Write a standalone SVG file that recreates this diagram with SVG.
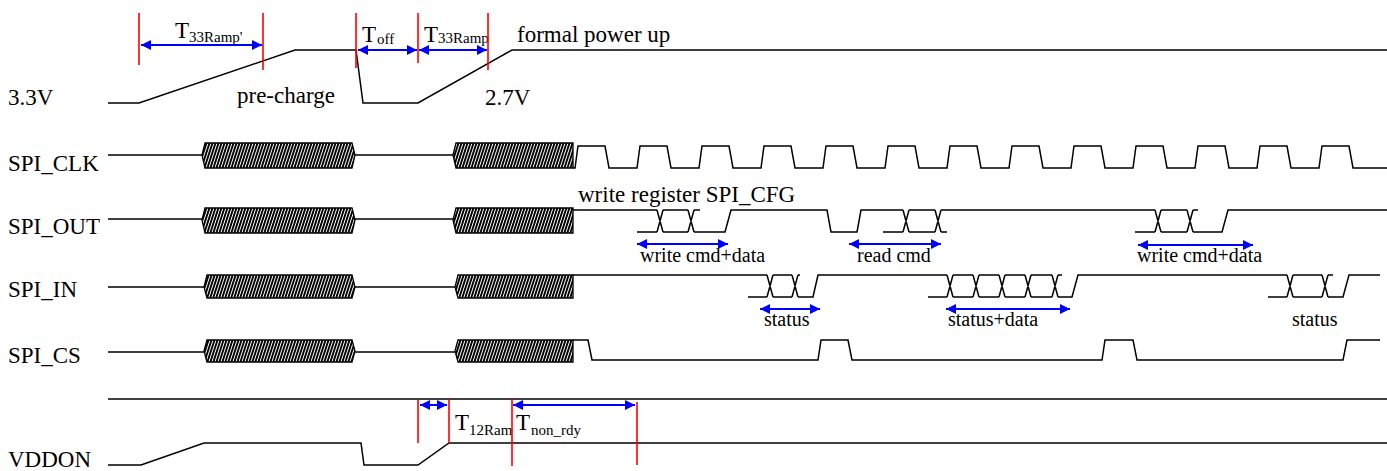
<svg xmlns="http://www.w3.org/2000/svg" width="1387" height="471" viewBox="0 0 1387 471">
<style>
.w{fill:none;stroke:#000;stroke-width:1.5;stroke-linejoin:miter}
.r{stroke:#f00;stroke-width:1.6;fill:none}
.b{stroke:#00f;stroke-width:2;fill:none;marker-start:url(#ah);marker-end:url(#ah)}
.blk{fill:url(#hatch);stroke:#000;stroke-width:1.3}
text{font-family:"Liberation Serif","Times New Roman",serif;fill:#000}
.lbl{font-size:23px}
.sm{font-size:20px}
.sub{font-size:15px}
</style>
<defs>
<pattern id="hatch" patternUnits="userSpaceOnUse" width="3" height="12" patternTransform="skewX(-18)">
<rect width="3" height="12" fill="#fff"/><rect width="2" height="12" fill="#000"/>
</pattern>
<marker id="ah" viewBox="0 0 10 10" refX="10" refY="5" markerUnits="userSpaceOnUse" markerWidth="11" markerHeight="10" orient="auto-start-reverse">
<path d="M0,0 L10,5 L0,10 z" fill="#00f"/>
</marker>
</defs>
<rect width="1387" height="471" fill="#fff"/>

<g id="v33">
<text class="lbl" x="8" y="105">3.3V</text>
<path class="w" d="M108,103 H139 L295,50 H356 L363,103 H418 L512,50 H1387"/>
<text class="lbl" x="237" y="103">pre-charge</text>
<text class="lbl" x="485" y="105">2.7V</text>
<text class="lbl" x="517" y="42">formal power up</text>
</g>

<g id="spi_clk">
<text class="lbl" x="8" y="171">SPI_CLK</text>
<path class="w" d="M108,155 H202 M355,155 H453"/>
<polygon class="blk" points="202,155 205,143 352,143 355,155 352,168 205,168"/>
<polygon class="blk" points="453,155 456,143 573,143 573,168 456,168"/>
<path class="w" d="M573,168 H575 L578,146 H605 L609,168 H637 L640,146 H667 L671,168 H699 L702,146 H729 L733,168 H761 L764,146 H791 L795,168 H823 L826,146 H853 L857,168 H885 L888,146 H915 L919,168 H947 L950,146 H977 L981,168 H1009 L1012,146 H1039 L1043,168 H1071 L1074,146 H1101 L1105,168 H1133 L1136,146 H1163 L1167,168 H1195 L1198,146 H1225 L1229,168 H1257 L1260,146 H1287 L1291,168 H1319 L1322,146 H1349 L1353,168 H1387"/>
</g>

<g id="spi_out">
<text class="lbl" x="8" y="234">SPI_OUT</text>
<path class="w" d="M108,219 H202 M355,219 H453"/>
<polygon class="blk" points="202,220 205,208 352,208 355,220 352,233 205,233"/>
<polygon class="blk" points="453,220 456,208 573,208 573,233 456,233"/>
<path class="w" d="M573,210 H657 M663,210 H688 M694,210 H700"/>
<path class="w" d="M637,232 H657 M663,232 H688 M694,232 H725 L731,210 H827 L831,232 H857 L861,210 H903 M909,210 H935 M941,210 H1155 M1161,210 H1187 M1193,210 H1198"/>
<path class="w" d="M883,232 H903 M909,232 H935 M941,232 H947"/>
<path class="w" d="M1135,232 H1155 M1161,232 H1187 M1193,232 H1222 L1228,210 H1387"/>
<path class="w" d="M657,210 L663,232 M657,232 L663,210 M688,210 L694,232 M688,232 L694,210 M903,210 L909,232 M903,232 L909,210 M935,210 L941,232 M935,232 L941,210 M1155,210 L1161,232 M1155,232 L1161,210 M1187,210 L1193,232 M1187,232 L1193,210"/>
<text class="lbl" x="578" y="202">write register SPI_CFG</text>
<text class="sm" x="640" y="262">write cmd+data</text>
<text class="sm" x="857" y="262">read cmd</text>
<text class="sm" x="1137" y="262">write cmd+data</text>
</g>

<g id="spi_in">
<text class="lbl" x="8" y="297">SPI_IN</text>
<path class="w" d="M108,287 H204 M354,287 H455"/>
<polygon class="blk" points="204,287 207,275 352,275 355,287 352,298 207,298"/>
<polygon class="blk" points="455,287 458,275 573,275 573,298 458,298"/>
<path class="w" d="M573,275 H767 M773,275 H792 M798,275 H800"/>
<path class="w" d="M748,297 H767 M773,297 H792 M798,297 H813 L818,275 H947 M953,275 H973 M979,275 H999 M1005,275 H1025 M1031,275 H1052 M1058,275 H1062"/>
<path class="w" d="M928,297 H947 M953,297 H973 M979,297 H999 M1005,297 H1025 M1031,297 H1052 M1058,297 H1072 L1078,275 H1287 M1293,275 H1322 M1328,275 H1333"/>
<path class="w" d="M1268,297 H1287 M1293,297 H1322 M1328,297 H1343 L1349,275 H1380"/>
<path class="w" d="M767,275 L773,297 M767,297 L773,275 M792,275 L798,297 M792,297 L798,275 M947,275 L953,297 M947,297 L953,275 M973,275 L979,297 M973,297 L979,275 M999,275 L1005,297 M999,297 L1005,275 M1025,275 L1031,297 M1025,297 L1031,275 M1052,275 L1058,297 M1052,297 L1058,275 M1287,275 L1293,297 M1287,297 L1293,275 M1322,275 L1328,297 M1322,297 L1328,275"/>
<text class="sm" x="764" y="326">status</text>
<text class="sm" x="948" y="326">status+data</text>
<text class="sm" x="1292" y="326">status</text>
</g>

<g id="spi_cs">
<text class="lbl" x="8" y="363">SPI_CS</text>
<path class="w" d="M108,352 H204 M354,352 H455"/>
<polygon class="blk" points="204,351 207,340 352,340 355,351 352,362 207,362"/>
<polygon class="blk" points="455,351 458,340 573,340 573,362 458,362"/>
<path class="w" d="M573,340 H588 L592,360 H818 L821,340 H848 L852,360 H1102 L1105,340 H1133 L1137,360 H1343 L1347,340 H1380"/>
</g>

<g id="rail">
<path class="w" d="M108,399 H1387"/>
</g>

<g id="vddon">
<text class="lbl" x="8" y="467">VDDON</text>
<path class="w" d="M108,465 H141 L204,443 H361 L364,465 H418 L449,443 H1387"/>
<text class="lbl" x="455" y="430">T</text><text class="sub" x="469" y="435">12Ram</text>
<text class="lbl" x="516" y="430">T</text><text class="sub" x="531" y="435">non_rdy</text>
</g>

<g id="timing_labels">
<text class="lbl" x="175" y="38">T</text><text class="sub" x="189" y="42">33Ramp'</text>
<text class="lbl" x="362" y="42">T</text><text class="sub" x="377" y="44">off</text>
<text class="lbl" x="424" y="42">T</text><text class="sub" x="438" y="43">33Ramp</text>
</g>

<g id="connectors">
<path class="r" d="M139,13 V65 M263,13 V70 M356,13 V68 M418,13 V63 M488,13 V70"/>
<path class="r" d="M418,400 V443 M449,399 V443 M512,399 V466 M637,402 V465"/>
<line class="b" x1="141" y1="45" x2="262" y2="45"/>
<line class="b" x1="358" y1="50" x2="417" y2="50"/>
<line class="b" x1="419" y1="50" x2="487" y2="50"/>
<line class="b" x1="637" y1="244" x2="728" y2="244"/>
<line class="b" x1="849" y1="244" x2="941" y2="244"/>
<line class="b" x1="1138" y1="245" x2="1253" y2="245"/>
<line class="b" x1="760" y1="309" x2="820" y2="309"/>
<line class="b" x1="946" y1="309" x2="1070" y2="309"/>
<line class="b" x1="420" y1="405" x2="447" y2="405"/>
<line class="b" x1="513" y1="405" x2="635" y2="405"/>
</g>
</svg>
